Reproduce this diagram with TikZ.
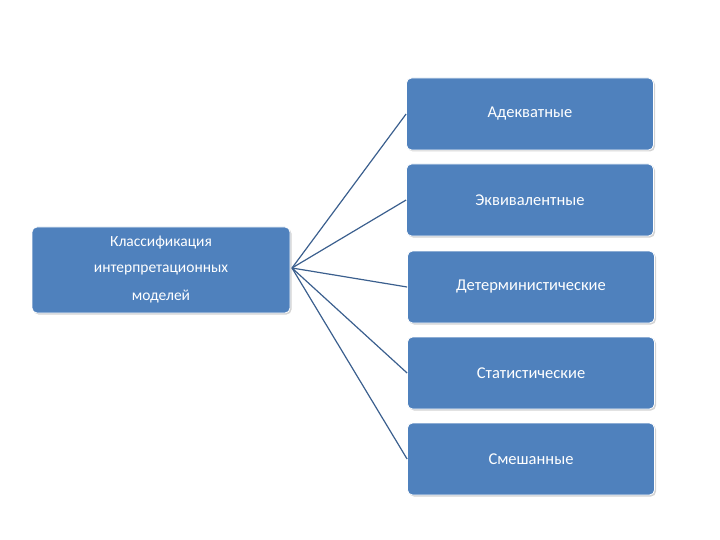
\documentclass[tikz,border=0pt]{standalone}
\usepackage{fontspec}
\setmainfont{Carlito}
\usetikzlibrary{shadows}
\definecolor{boxblue}{HTML}{4F81BD}
\definecolor{linblue}{HTML}{3B5F8E}
\newcommand{\rfont}{\fontsize{16.5}{19}\selectfont}
\newcommand{\myleftfont}{\fontsize{15.5}{27}\selectfont}
\begin{document}
\begin{tikzpicture}[x=1pt,y=-1pt,
  box/.style={fill=boxblue,draw=white,line width=0.8pt,rounded corners=5pt,text=white,
    drop shadow={shadow xshift=1.5pt,shadow yshift=-1.5pt,opacity=0.35}},
  rbox/.style={box,minimum width=247pt,minimum height=72pt},
  conn/.style={draw=linblue,line width=1.2pt}]
\useasboundingbox (0,0) rectangle (720,540);
\node[box,minimum width=258pt,minimum height=86pt] (c) at (161,270) {};
\node[text=white,inner sep=0pt] (c1) at (161,243) {\myleftfont Классификация};
\node[text=white,inner sep=0pt] (c2) at (161,270) {\myleftfont интерпретационных};
\node[text=white,inner sep=0pt] (c3) at (161,297) {\myleftfont моделей};
\node[rbox] (a) at (530,114) {\rfont Адекватные};
\node[rbox] (b) at (530,200) {\rfont Эквивалентные};
\node[rbox] (d) at (531,287) {\rfont Детерминистические};
\node[rbox] (s) at (531,373) {\rfont Статистические};
\node[rbox] (m) at (531,459) {\rfont Смешанные};
\coordinate (o) at (292,268);
\foreach \t in {a,b,d,s,m} \draw[conn] (o) -- (\t.west);
\end{tikzpicture}
\end{document}
